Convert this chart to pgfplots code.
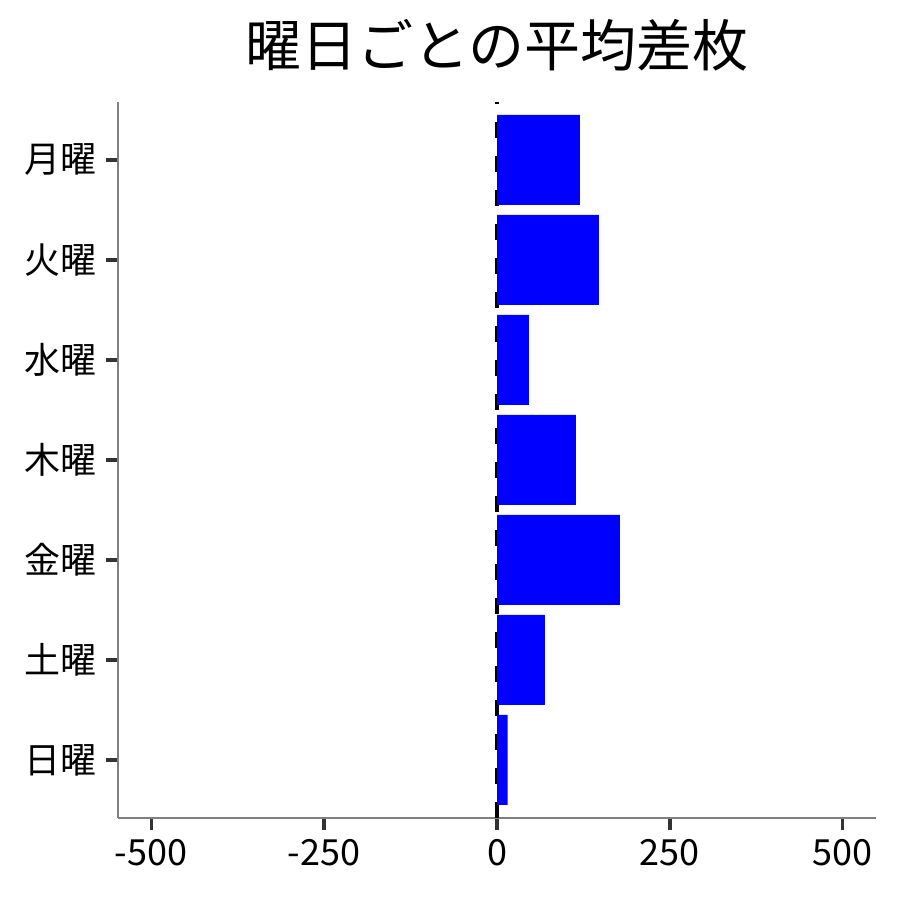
\documentclass[border=0pt]{standalone}
\usepackage{pgfplots}
\pgfplotsset{compat=1.18}
\usepackage{fontspec}
\setmainfont{Noto Sans CJK JP}
\begin{document}
\begin{tikzpicture}
\begin{axis}[
  name=ax,
  scale only axis,
  width=379bp, height=358bp,
  xmin=-548, xmax=548,
  ymin=-0.58, ymax=6.58,
  axis lines*=left,
  axis line style={draw=gray, line width=0.6bp},
  xtick={-500,-250,0,250,500},
  xticklabels={-500,-250,0,250,500},
  ytick={0,1,2,3,4,5,6},
  yticklabels={日曜,土曜,金曜,木曜,水曜,火曜,月曜},
  tick align=outside,
  every tick/.style={draw=black!80, line width=1.6bp},
  xtick style={draw=black!80, line width=1.6bp},
  ytick style={draw=black!80, line width=1.6bp},
  major tick length=6bp,
  tick label style={font=\fontsize{18bp}{20bp}\selectfont},
  xticklabel style={yshift=-1bp},
  yticklabel style={xshift=-1bp},
  title={曜日ごとの平均差枚},
  title style={font=\fontsize{28bp}{32bp}\selectfont, yshift=6bp},
  clip=false,
  /pgf/number format/assume math mode=true,
]
\addplot[black, line width=2bp, dash pattern=on 8bp off 9bp] coordinates {(0,-0.58) (0,6.58)};
\addplot[xbar, bar width=0.9, fill=blue, draw=none, bar shift=0pt] coordinates {
 (15.5,0) (69.4,1) (177.7,2) (114,3) (46.2,4) (147.4,5) (120,6)
};
\end{axis}
\path (ax.south west) ++(-59bp,-41bp) coordinate (bl);
\path (ax.north east) ++(12bp,51bp) coordinate (tr);
\path (bl) rectangle (tr);
\end{tikzpicture}
\end{document}
